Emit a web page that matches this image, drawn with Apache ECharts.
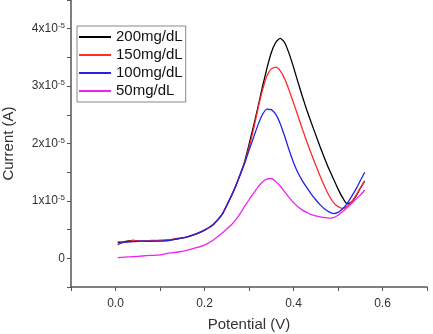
<!DOCTYPE html>
<html>
<head>
<meta charset="utf-8">
<script src="https://cdn.jsdelivr.net/npm/echarts@6/dist/echarts.min.js"></script>
<style>
  html, body { margin: 0; padding: 0; background: #fff; }
  #chart { width: 433px; height: 334px; }
</style>
</head>
<body>
<div id="chart"></div>
<script>
// potential (V)
const potential = [0.005, 0.02, 0.04, 0.06, 0.08, 0.10, 0.12, 0.14, 0.16, 0.18, 0.20, 0.22, 0.24, 0.25, 0.26, 0.27,
  0.28, 0.29, 0.30, 0.31, 0.32, 0.33, 0.34, 0.35, 0.36, 0.37, 0.38, 0.39, 0.40, 0.41, 0.42, 0.43, 0.44, 0.45,
  0.46, 0.47, 0.48, 0.49, 0.50, 0.51, 0.52, 0.53, 0.54, 0.55, 0.56];

// current, in units of 1e-5 A
const c200 = [0.27, 0.29, 0.31, 0.30, 0.30, 0.31, 0.32, 0.34, 0.37, 0.42, 0.49, 0.59, 0.77, 0.92, 1.08, 1.26,
  1.46, 1.68, 1.98, 2.30, 2.63, 2.98, 3.30, 3.58, 3.76, 3.83, 3.76, 3.57, 3.33, 3.07, 2.82, 2.58, 2.36, 2.15,
  1.94, 1.74, 1.55, 1.38, 1.21, 1.06, 0.95, 0.98, 1.08, 1.22, 1.35];
const c150 = [0.29, 0.28, 0.31, 0.30, 0.31, 0.31, 0.32, 0.35, 0.37, 0.42, 0.49, 0.60, 0.77, 0.92, 1.08, 1.25,
  1.45, 1.66, 1.93, 2.24, 2.60, 2.92, 3.17, 3.30, 3.33, 3.27, 3.13, 2.93, 2.71, 2.48, 2.25, 2.03, 1.82, 1.62,
  1.43, 1.25, 1.09, 0.97, 0.90, 0.87, 0.90, 0.98, 1.09, 1.22, 1.35];
const c100 = [0.24, 0.28, 0.29, 0.30, 0.30, 0.30, 0.31, 0.34, 0.37, 0.42, 0.49, 0.59, 0.77, 0.92, 1.08, 1.25,
  1.45, 1.65, 1.88, 2.10, 2.32, 2.50, 2.60, 2.59, 2.51, 2.35, 2.13, 1.89, 1.67, 1.49, 1.35, 1.23, 1.12, 1.02,
  0.93, 0.86, 0.81, 0.78, 0.80, 0.86, 0.95, 1.07, 1.20, 1.35, 1.50];
const c50 = [0.01, 0.02, 0.03, 0.04, 0.05, 0.06, 0.09, 0.11, 0.14, 0.18, 0.23, 0.32, 0.44, 0.51, 0.58, 0.67,
  0.78, 0.90, 1.02, 1.13, 1.24, 1.33, 1.38, 1.39, 1.34, 1.26, 1.16, 1.06, 0.97, 0.90, 0.84, 0.80, 0.76, 0.74,
  0.72, 0.71, 0.70, 0.71, 0.75, 0.81, 0.88, 0.95, 1.03, 1.10, 1.19];

const names = ['200mg/dL', '150mg/dL', '100mg/dL', '50mg/dL'];
const colors = ['#000000', '#ff2a2a', '#2323e6', '#ee22ee'];
const currents = [c200, c150, c100, c50];

const chart = echarts.init(document.getElementById('chart'));
const axisColor = '#555';
const labelColor = '#333';

const option = {
  animation: false,
  grid: { left: 71, right: 6, top: 0, bottom: 47, outerBoundsMode: 'none', containLabel: false },
  legend: {
    orient: 'vertical',
    left: 77,
    top: 26,
    padding: [3, 3, 3, 2],
    itemGap: 2,
    itemWidth: 32,
    itemHeight: 2,
    icon: 'rect',
    borderColor: '#888',
    borderWidth: 1,
    textStyle: { fontSize: 15, lineHeight: 16, color: '#111', fontFamily: 'Liberation Sans' },
    data: names
  },
  xAxis: {
    type: 'value',
    min: -0.1,
    max: 0.7,
    interval: 0.1,
    name: 'Potential (V)',
    nameLocation: 'middle',
    nameGap: 30,
    nameTextStyle: { fontSize: 15, color: labelColor, fontFamily: 'Liberation Sans' },
    splitLine: { show: false },
    axisLine: { onZero: false, lineStyle: { color: axisColor, width: 1.5 } },
    axisTick: { length: 4, lineStyle: { color: axisColor } },
    axisLabel: {
      fontSize: 12, color: labelColor, margin: 11, fontFamily: 'Liberation Sans',
      formatter: v => {
        const k = Math.round(v * 10);
        return (k >= 0 && k % 2 === 0) ? (k / 10).toFixed(1) : '';
      }
    }
  },
  yAxis: {
    type: 'value',
    min: -0.5,
    max: 4.5,
    interval: 0.5,
    name: 'Current (A)',
    nameLocation: 'middle',
    nameGap: 55,
    nameTextStyle: { fontSize: 15, color: labelColor, fontFamily: 'Liberation Sans' },
    splitLine: { show: false },
    axisLine: { show: true, onZero: false, lineStyle: { color: axisColor, width: 1.5 } },
    axisTick: { show: true, length: 4, lineStyle: { color: axisColor } },
    axisLabel: {
      fontSize: 12, color: labelColor, margin: 6, fontFamily: 'Liberation Sans',
      formatter: v => {
        const k = Math.round(v * 2);
        if (k < 0 || k % 2 !== 0) return '';
        if (k === 0) return '0';
        return (k / 2) + 'x10{sup|-5}';
      },
      rich: {
        sup: { fontSize: 8, color: labelColor, verticalAlign: 'top', padding: [0, 0, 6, 0] }
      }
    }
  },
  series: names.map((n, i) => ({
    name: n,
    type: 'line',
    smooth: 0.2,
    symbol: 'none',
    itemStyle: { color: colors[i] },
    lineStyle: { color: colors[i], width: 1.3 },
    data: potential.map((x, j) => [x, currents[i][j]])
  }))
};
chart.setOption(option);
</script>
</body>
</html>
